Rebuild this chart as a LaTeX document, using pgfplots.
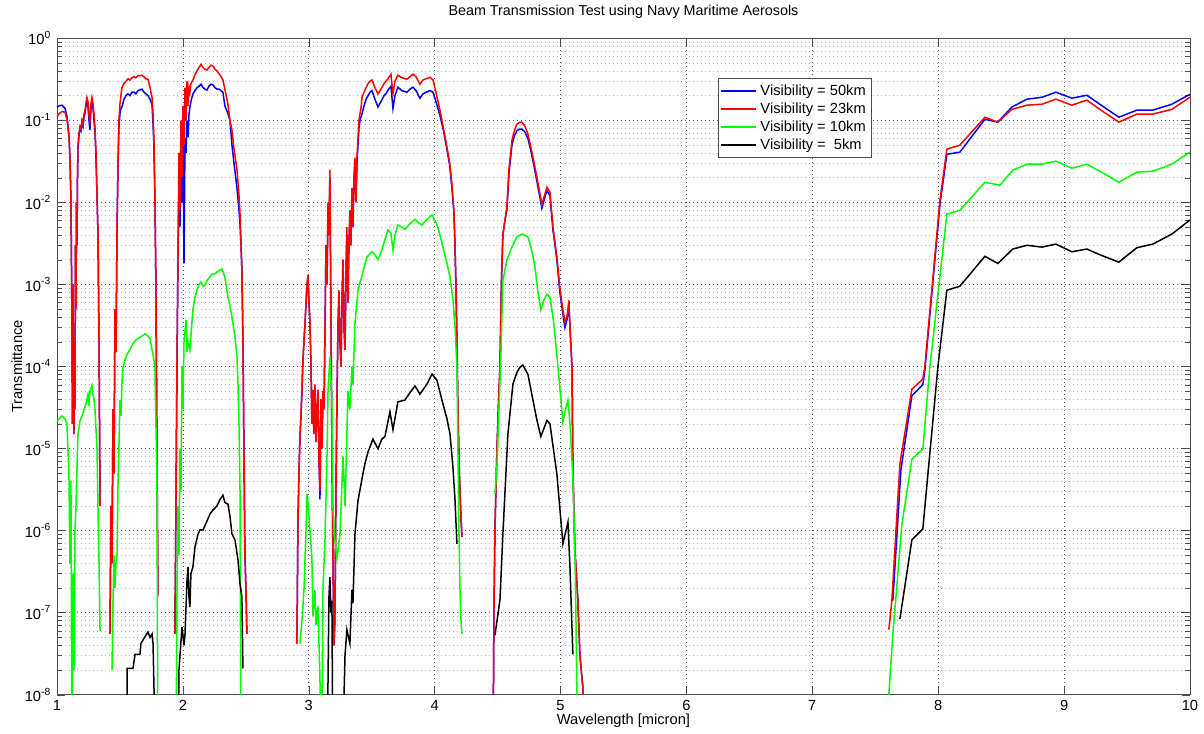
\documentclass[border=0pt]{standalone}
\usepackage{pgfplots}
\pgfplotsset{compat=1.18}
\usepackage{fontspec}
\setmainfont{Liberation Sans}
\definecolor{mblue}{rgb}{0,0,1}
\definecolor{mred}{rgb}{1,0,0}
\definecolor{mgreen}{rgb}{0,1,0}

\begin{document}
\begin{tikzpicture}
\begin{axis}[
 width=680pt, height=394pt, scale only axis,
 xmin=1, xmax=10, ymin=1e-8, ymax=1,
 ymode=log, log basis y=10,
 unbounded coords=jump,
 xtick={1,2,3,4,5,6,7,8,9,10},
 ytick={1e-8,1e-7,1e-6,1e-5,1e-4,1e-3,1e-2,1e-1,1},
 yticklabels={10\textsuperscript{-8},10\textsuperscript{-7},10\textsuperscript{-6},10\textsuperscript{-5},10\textsuperscript{-4},10\textsuperscript{-3},10\textsuperscript{-2},10\textsuperscript{-1},10\textsuperscript{0}},
 minor ytick={2e-8,3e-8,4e-8,5e-8,6e-8,7e-8,8e-8,9e-8,
  2e-7,3e-7,4e-7,5e-7,6e-7,7e-7,8e-7,9e-7,
  2e-6,3e-6,4e-6,5e-6,6e-6,7e-6,8e-6,9e-6,
  2e-5,3e-5,4e-5,5e-5,6e-5,7e-5,8e-5,9e-5,
  2e-4,3e-4,4e-4,5e-4,6e-4,7e-4,8e-4,9e-4,
  2e-3,3e-3,4e-3,5e-3,6e-3,7e-3,8e-3,9e-3,
  2e-2,3e-2,4e-2,5e-2,6e-2,7e-2,8e-2,9e-2,
  0.2,0.3,0.4,0.5,0.6,0.7,0.8,0.9},
 minor x tick num=0,
 /pgf/number format/assume math mode=true,
 grid=both,
 major grid style={black!65, dotted},
 minor grid style={black!28, dotted},
 axis line style={black!70},
 tick style={black!70},
 tick align=inside, tick pos=both,
 major tick length=5pt, minor tick length=3pt,
 tick label style={font=\fontsize{8.8}{10}\selectfont},
 label style={font=\fontsize{8.8}{10}\selectfont},
 title style={font=\fontsize{8.6}{10}\selectfont, at={(rel axis cs:0.5,1.0244)}, anchor=center},
 title={Beam Transmission Test using Navy Maritime Aerosols},
 xlabel={Wavelength [micron]},
 ylabel={Transmittance},
 xlabel style={at={(rel axis cs:0.5,-0.0396)}, anchor=center},
 ylabel style={at={(rel axis cs:-0.0353,0.5)}, anchor=center, rotate=0},
 legend style={at={(rel axis cs:0.583,0.939)}, anchor=north west, draw=black!70,
  font=\fontsize{8.8}{10}\selectfont, inner sep=1.5pt, row sep=-1pt},
 legend cell align={left},
 legend image code/.code={\draw[#1, line width=1.1pt] (0pt,0pt) -- (21pt,0pt);},
 every axis plot/.append style={line width=0.9pt},
]
% Visibility = 50 km
\addplot[mblue] coordinates {
 (1.000,0.145) (1.016,0.15) (1.040,0.153) (1.064,0.14) (1.080,0.11) (1.095,0.065) (1.103,0.035) (1.111,0.011) (1.115,0.002) (1.119,3e-4) (1.123,2e-5) (1.127,1e-3) (1.131,3e-5) (1.135,1.5e-5) (1.139,2e-4) (1.143,3e-5) (1.147,3e-3) (1.151,5e-4) (1.155,0.01) (1.159,3e-3) (1.163,0.02) (1.167,0.045) (1.175,0.065) (1.183,0.08) (1.191,0.075) (1.199,0.095) (1.207,0.085) (1.215,0.11) (1.222,0.12) (1.230,0.15) (1.238,0.17) (1.246,0.15) (1.254,0.1) (1.262,0.076) (1.270,0.14) (1.278,0.17) (1.286,0.14) (1.294,0.1) (1.302,0.07) (1.310,0.035) (1.318,0.012) (1.326,4e-3) (1.334,2e-4) (1.342,2e-6) (1.350,nan)
 (1.421,5.5e-8) (1.429,2e-6) (1.437,4e-7) (1.445,3e-5) (1.453,5e-6) (1.461,5e-4) (1.469,1.5e-4) (1.477,5e-3) (1.485,0.03) (1.492,0.08) (1.500,0.12) (1.508,0.14) (1.516,0.145) (1.532,0.18) (1.548,0.2) (1.564,0.21) (1.580,0.2) (1.596,0.22) (1.612,0.22) (1.627,0.21) (1.643,0.23) (1.659,0.235) (1.675,0.24) (1.691,0.22) (1.707,0.21) (1.723,0.2) (1.739,0.18) (1.755,0.157) (1.763,0.09) (1.770,0.05) (1.778,0.011) (1.786,1e-3) (1.794,1e-5) (1.802,1.7e-7) (1.810,nan)
 (1.937,5.5e-8) (1.945,2e-6) (1.953,1e-4) (1.961,2e-3) (1.969,0.02) (1.977,0.005) (1.985,0.04) (1.993,0.01) (2.001,0.05) (2.009,0.0018) (2.017,0.06) (2.025,0.04) (2.033,0.1) (2.041,0.062) (2.049,0.12) (2.056,0.145) (2.064,0.17) (2.080,0.21) (2.096,0.23) (2.112,0.25) (2.128,0.26) (2.144,0.275) (2.160,0.25) (2.176,0.24) (2.191,0.233) (2.207,0.26) (2.223,0.275) (2.239,0.27) (2.255,0.25) (2.271,0.24) (2.287,0.24) (2.303,0.23) (2.318,0.22) (2.334,0.15) (2.358,0.12) (2.374,0.1) (2.390,0.05) (2.406,0.03) (2.430,0.015) (2.446,0.008) (2.454,0.0054) (2.462,3e-3) (2.469,1.5e-3) (2.477,2.3e-4) (2.485,1e-5) (2.493,5e-7) (2.501,2e-7) (2.509,5.5e-8) (2.520,nan)
 (2.906,4.2e-8) (2.914,1.2e-6) (2.922,5e-6) (2.930,1.3e-5) (2.946,5e-5) (2.954,1.2e-4) (2.970,3.3e-4) (2.986,1e-3) (2.994,1.2e-3) (3.002,6e-4) (3.010,3.3e-4) (3.018,1e-4) (3.025,2e-5) (3.033,5.2e-5) (3.041,1.5e-5) (3.049,6e-5) (3.057,1.2e-5) (3.065,2.9e-5) (3.073,5.2e-5) (3.081,8e-6) (3.089,2.4e-6) (3.097,4e-5) (3.105,1e-5) (3.113,5e-5) (3.121,3e-5) (3.129,3e-4) (3.137,3e-3) (3.145,1e-3) (3.153,0.008) (3.160,4e-3) (3.168,0.02) (3.176,5e-4) (3.184,1e-5) (3.192,5e-7) (3.200,4e-8) (3.208,8e-8) (3.216,3e-6) (3.224,4e-5) (3.232,3e-4) (3.240,8e-4) (3.248,2e-4) (3.256,1e-4) (3.264,6e-4) (3.272,2e-3) (3.280,3e-4) (3.288,1.6e-4) (3.296,1.5e-3) (3.303,0.004) (3.311,6e-4) (3.319,0.003) (3.327,0.007) (3.335,0.003) (3.343,0.012) (3.351,0.005) (3.359,0.018) (3.367,0.03) (3.375,0.01) (3.383,0.03) (3.391,0.05) (3.399,0.08) (3.407,0.1) (3.415,0.11) (3.423,0.119) (3.439,0.15) (3.455,0.18) (3.471,0.2) (3.486,0.22) (3.502,0.23) (3.526,0.18) (3.550,0.145) (3.574,0.17) (3.598,0.2) (3.613,0.21) (3.629,0.233) (3.653,0.26) (3.669,0.14) (3.685,0.2) (3.708,0.253) (3.740,0.23) (3.780,0.22) (3.804,0.24) (3.828,0.253) (3.852,0.23) (3.883,0.186) (3.907,0.21) (3.931,0.22) (3.963,0.23) (3.987,0.22) (4.010,0.17) (4.042,0.115) (4.070,0.075) (4.098,0.044) (4.120,0.028) (4.137,0.015) (4.153,0.0075) (4.161,0.0033) (4.169,1e-3) (4.177,2e-4) (4.185,3e-5) (4.193,8e-6) (4.201,3e-6) (4.209,1.5e-6) (4.217,8.4e-7) (4.230,nan)
 (4.463,1e-9) (4.471,1e-7) (4.479,1e-6) (4.495,1e-5) (4.511,5e-5) (4.519,1e-4) (4.530,1e-3) (4.542,4e-3) (4.558,6e-3) (4.574,0.008) (4.590,0.022) (4.614,0.05) (4.634,0.065) (4.654,0.075) (4.673,0.078) (4.693,0.078) (4.717,0.072) (4.741,0.06) (4.761,0.045) (4.781,0.032) (4.813,0.018) (4.852,0.0085) (4.872,0.011) (4.892,0.014) (4.916,0.012) (4.940,0.0046) (4.971,0.002) (4.995,8e-4) (5.019,4.3e-4) (5.035,3e-4) (5.051,3.7e-4) (5.067,5.5e-4) (5.075,3e-4) (5.091,1e-4) (5.098,6e-6) (5.114,6e-7) (5.138,1.4e-7) (5.154,3e-8) (5.178,1.2e-8) (5.190,1e-9) (5.200,nan)
 (7.640,1.4e-7) (7.704,5.5e-6) (7.791,4.4e-5) (7.878,6e-5) (7.894,9e-5) (8.014,0.0095) (8.069,0.0386) (8.172,0.0409) (8.371,0.103) (8.474,0.095) (8.585,0.145) (8.705,0.181) (8.824,0.191) (8.935,0.22) (9.062,0.186) (9.181,0.202) (9.284,0.157) (9.435,0.109) (9.578,0.133) (9.705,0.133) (9.856,0.157) (10.000,0.208)
};
\addlegendentry{Visibility = 50km}
% Visibility = 23 km
\addplot[mred] coordinates {
 (1.000,0.11) (1.016,0.12) (1.040,0.128) (1.064,0.126) (1.080,0.1) (1.095,0.065) (1.103,0.035) (1.111,0.011) (1.115,0.002) (1.119,3e-4) (1.123,2e-5) (1.127,1e-3) (1.131,3e-5) (1.135,1.5e-5) (1.139,2e-4) (1.143,3e-5) (1.147,3e-3) (1.151,5e-4) (1.155,0.01) (1.159,3e-3) (1.163,0.02) (1.167,0.05) (1.175,0.07) (1.183,0.085) (1.191,0.08) (1.199,0.1) (1.207,0.09) (1.215,0.12) (1.222,0.13) (1.230,0.16) (1.238,0.19) (1.246,0.17) (1.254,0.12) (1.262,0.1) (1.270,0.16) (1.278,0.19) (1.286,0.16) (1.294,0.12) (1.302,0.08) (1.310,0.04) (1.318,0.012) (1.326,4e-3) (1.334,2e-4) (1.342,2e-6) (1.350,nan)
 (1.421,5.5e-8) (1.429,2e-6) (1.437,4e-7) (1.445,3e-5) (1.453,5e-6) (1.461,5e-4) (1.469,1.5e-4) (1.477,5e-3) (1.485,0.03) (1.492,0.1) (1.500,0.157) (1.508,0.2) (1.516,0.25) (1.532,0.28) (1.548,0.3) (1.564,0.32) (1.580,0.31) (1.596,0.33) (1.612,0.34) (1.627,0.33) (1.643,0.35) (1.659,0.35) (1.675,0.354) (1.691,0.34) (1.707,0.32) (1.723,0.317) (1.739,0.25) (1.755,0.19) (1.763,0.12) (1.770,0.06) (1.778,0.012) (1.786,1e-3) (1.794,1e-5) (1.802,1.6e-7) (1.810,nan)
 (1.937,5.5e-8) (1.945,2e-6) (1.953,1e-4) (1.961,2e-3) (1.969,0.04) (1.977,0.008) (1.985,0.1) (1.993,0.02) (2.001,0.15) (2.009,0.05) (2.017,0.25) (2.025,0.1) (2.033,0.3) (2.041,0.15) (2.049,0.25) (2.056,0.22) (2.064,0.28) (2.080,0.31) (2.096,0.36) (2.112,0.4) (2.128,0.44) (2.144,0.48) (2.160,0.44) (2.176,0.42) (2.191,0.41) (2.207,0.44) (2.223,0.47) (2.239,0.46) (2.255,0.42) (2.271,0.4) (2.287,0.37) (2.303,0.34) (2.318,0.31) (2.334,0.24) (2.358,0.157) (2.374,0.1) (2.390,0.076) (2.406,0.045) (2.430,0.025) (2.446,0.012) (2.454,0.0072) (2.462,3e-3) (2.469,1.5e-3) (2.477,2.3e-4) (2.485,1e-5) (2.493,5e-7) (2.501,2e-7) (2.509,5.5e-8) (2.520,nan)
 (2.906,4.2e-8) (2.914,1.2e-6) (2.922,5e-6) (2.930,1.3e-5) (2.946,5e-5) (2.954,1.2e-4) (2.970,3.3e-4) (2.986,1e-3) (2.994,1.3e-3) (3.002,6e-4) (3.010,3.3e-4) (3.018,1e-4) (3.025,2e-5) (3.033,5.2e-5) (3.041,1.5e-5) (3.049,6e-5) (3.057,1.2e-5) (3.065,2.9e-5) (3.073,5.2e-5) (3.081,8e-6) (3.089,3e-6) (3.097,4e-5) (3.105,1e-5) (3.113,5e-5) (3.121,3e-5) (3.129,3e-4) (3.137,3e-3) (3.145,1e-3) (3.153,0.01) (3.160,4e-3) (3.168,0.025) (3.176,5e-4) (3.184,1e-5) (3.192,5e-7) (3.200,4e-8) (3.208,8e-8) (3.216,3e-6) (3.224,4e-5) (3.232,3e-4) (3.240,8.5e-4) (3.248,2e-4) (3.256,1e-4) (3.264,6e-4) (3.272,2e-3) (3.280,3e-4) (3.288,1.6e-4) (3.296,1.5e-3) (3.303,0.005) (3.311,6e-4) (3.319,0.003) (3.327,0.008) (3.335,0.003) (3.343,0.015) (3.351,0.005) (3.359,0.02) (3.367,0.035) (3.375,0.01) (3.383,0.035) (3.391,0.06) (3.399,0.1) (3.407,0.12) (3.415,0.14) (3.423,0.19) (3.439,0.22) (3.455,0.25) (3.471,0.28) (3.486,0.3) (3.502,0.31) (3.526,0.25) (3.550,0.21) (3.574,0.24) (3.598,0.28) (3.613,0.3) (3.629,0.32) (3.653,0.365) (3.669,0.21) (3.685,0.3) (3.708,0.354) (3.740,0.33) (3.780,0.317) (3.804,0.34) (3.828,0.365) (3.852,0.34) (3.883,0.275) (3.907,0.31) (3.931,0.32) (3.963,0.335) (3.987,0.31) (4.010,0.22) (4.042,0.133) (4.070,0.08) (4.098,0.047) (4.120,0.03) (4.137,0.0167) (4.153,0.008) (4.161,0.0035) (4.169,1e-3) (4.177,2.1e-4) (4.185,3e-5) (4.193,8e-6) (4.201,3e-6) (4.209,1.5e-6) (4.217,8.4e-7) (4.230,nan)
 (4.463,1e-9) (4.471,1e-7) (4.479,1e-6) (4.495,1e-5) (4.511,5e-5) (4.519,1e-4) (4.530,1e-3) (4.542,4e-3) (4.558,6e-3) (4.574,0.0088) (4.590,0.025) (4.614,0.057) (4.634,0.075) (4.654,0.09) (4.673,0.094) (4.693,0.095) (4.717,0.085) (4.741,0.068) (4.761,0.05) (4.781,0.0355) (4.813,0.02) (4.852,0.0095) (4.872,0.012) (4.892,0.0153) (4.916,0.0133) (4.940,0.005) (4.971,0.00215) (4.995,9e-4) (5.019,4.9e-4) (5.035,3.5e-4) (5.051,4e-4) (5.067,6.4e-4) (5.075,3e-4) (5.091,1e-4) (5.098,6e-6) (5.114,6e-7) (5.138,1.4e-7) (5.154,3e-8) (5.178,1.2e-8) (5.190,1e-9) (5.200,nan)
 (7.608,6.2e-8) (7.632,1.4e-7) (7.696,6.5e-6) (7.791,5.3e-5) (7.878,7e-5) (7.894,1e-4) (8.014,0.0106) (8.069,0.0445) (8.172,0.0498) (8.371,0.109) (8.474,0.095) (8.585,0.136) (8.705,0.153) (8.824,0.157) (8.935,0.181) (9.062,0.153) (9.181,0.176) (9.284,0.136) (9.435,0.095) (9.578,0.119) (9.705,0.119) (9.856,0.136) (10.000,0.191)
};
\addlegendentry{Visibility = 23km}
% Visibility = 10 km
\addplot[mgreen] coordinates {
 (1.000,2.1e-5) (1.016,2.3e-5) (1.040,2.5e-5) (1.064,2.3e-5) (1.079,2e-5) (1.095,5e-6) (1.103,4e-7) (1.111,4e-6) (1.119,1e-9) (1.127,3e-7) (1.135,2e-8) (1.143,1e-6) (1.151,2e-6) (1.159,6e-6) (1.167,1.5e-5) (1.183,2.2e-5) (1.199,2.5e-5) (1.215,3e-5) (1.230,3.5e-5) (1.246,4.5e-5) (1.254,3.3e-5) (1.262,5e-5) (1.278,5.9e-5) (1.286,4.5e-5) (1.294,4e-5) (1.302,3e-5) (1.318,1e-5) (1.326,1.8e-6) (1.334,4e-7) (1.342,6e-8) (1.350,nan)
 (1.437,2e-8) (1.445,1.4e-7) (1.453,5e-7) (1.461,2e-7) (1.469,4e-7) (1.477,5e-7) (1.485,4e-6) (1.492,1e-5) (1.500,3.9e-5) (1.508,2.5e-5) (1.516,6e-5) (1.524,9.7e-5) (1.540,1.2e-4) (1.556,1.4e-4) (1.580,1.6e-4) (1.604,1.9e-4) (1.627,2.1e-4) (1.643,2.2e-4) (1.667,2.3e-4) (1.699,2.5e-4) (1.715,2.4e-4) (1.739,2.2e-4) (1.755,1.6e-4) (1.763,1.4e-4) (1.778,1e-4) (1.786,2e-5) (1.794,5e-6) (1.802,1e-9) (1.810,nan)
 (1.945,1e-9) (1.953,1.5e-7) (1.961,2e-6) (1.969,5e-7) (1.977,1e-5) (1.985,3e-6) (1.993,1e-4) (2.001,3e-5) (2.009,2e-4) (2.025,3.7e-4) (2.033,1.5e-4) (2.041,2e-4) (2.056,1.6e-4) (2.072,3.5e-4) (2.080,4.9e-4) (2.096,7e-4) (2.112,8.5e-4) (2.128,1e-3) (2.144,1.07e-3) (2.160,9.5e-4) (2.176,9.8e-4) (2.191,1.1e-3) (2.207,1.2e-3) (2.231,1.33e-3) (2.255,1.35e-3) (2.279,1.45e-3) (2.311,1.54e-3) (2.334,1.23e-3) (2.358,7e-4) (2.374,5.5e-4) (2.390,4e-4) (2.414,2.3e-4) (2.430,1.3e-4) (2.438,6e-5) (2.446,2e-5) (2.454,3e-6) (2.462,1e-9) (2.470,nan)
 (2.930,4.2e-8) (2.946,8e-8) (2.962,1.9e-7) (2.978,1e-6) (2.986,2.8e-6) (2.994,2.2e-6) (3.010,1e-6) (3.025,4.6e-7) (3.033,9e-8) (3.049,1.9e-7) (3.057,7e-8) (3.073,1.2e-7) (3.089,1.6e-8) (3.097,1e-9) (3.105,5e-9) (3.113,1.9e-7) (3.129,8e-7) (3.145,8e-6) (3.153,5e-5) (3.168,1.3e-4) (3.184,4e-5) (3.192,2e-6) (3.208,7.7e-7) (3.224,4.6e-7) (3.248,9e-7) (3.272,8e-6) (3.288,2e-6) (3.303,1.5e-5) (3.311,5e-5) (3.327,3e-5) (3.343,1e-4) (3.351,6e-5) (3.367,3.3e-4) (3.391,8.5e-4) (3.423,1.3e-3) (3.462,2.15e-3) (3.502,2.5e-3) (3.526,2.3e-3) (3.550,2e-3) (3.580,2.6e-3) (3.605,3.5e-3) (3.629,4.6e-3) (3.653,4.2e-3) (3.669,2.6e-3) (3.685,4e-3) (3.708,5.3e-3) (3.740,5e-3) (3.764,4.7e-3) (3.804,5.5e-3) (3.844,6.2e-3) (3.875,5.6e-3) (3.899,5.3e-3) (3.939,6.2e-3) (3.979,7e-3) (4.018,5.4e-3) (4.042,4e-3) (4.066,2.85e-3) (4.098,1.8e-3) (4.122,1.23e-3) (4.145,6.5e-4) (4.161,3.3e-4) (4.177,1e-4) (4.185,1e-5) (4.193,1e-6) (4.201,2e-7) (4.209,8e-8) (4.217,5.5e-8) (4.230,nan)
 (4.479,2.8e-6) (4.495,6e-6) (4.511,3e-5) (4.527,1.5e-4) (4.542,1.1e-3) (4.574,2e-3) (4.614,2.85e-3) (4.654,3.8e-3) (4.693,4.1e-3) (4.741,3.8e-3) (4.769,2.7e-3) (4.797,1.63e-3) (4.821,8e-4) (4.844,4.9e-4) (4.868,6.5e-4) (4.892,7.6e-4) (4.916,7e-4) (4.940,4e-4) (4.956,2.4e-4) (4.979,1e-4) (5.003,4e-5) (5.019,2.1e-5) (5.035,2.8e-5) (5.059,3.9e-5) (5.075,2e-5) (5.098,4.5e-6) (5.114,6e-7) (5.122,1e-7) (5.138,1e-9) (5.150,nan)
 (7.600,1e-9) (7.608,1e-8) (7.640,5.5e-8) (7.712,1.2e-6) (7.791,7.4e-6) (7.878,9.9e-6) (7.934,1e-4) (8.069,0.0072) (8.172,0.008) (8.371,0.0176) (8.490,0.0162) (8.593,0.0247) (8.705,0.0292) (8.824,0.0292) (8.935,0.0318) (9.062,0.0261) (9.181,0.0292) (9.284,0.024) (9.435,0.0176) (9.578,0.0233) (9.705,0.024) (9.856,0.0292) (10.000,0.041)
};
\addlegendentry{Visibility = 10km}
% Visibility = 5 km
\addplot[black] coordinates {
 (1.556,1e-9) (1.558,2.1e-8) (1.604,2.1e-8) (1.620,3.1e-8) (1.659,3.1e-8) (1.667,4.2e-8) (1.699,5.1e-8) (1.723,5.8e-8) (1.739,5e-8) (1.755,5.5e-8) (1.763,4.2e-8) (1.786,1e-9) (1.790,nan)
 (1.961,1e-9) (1.969,2e-8) (1.993,6.7e-8) (2.009,4e-8) (2.017,5.5e-8) (2.033,2.5e-7) (2.041,3.6e-7) (2.049,1.5e-7) (2.056,1.17e-7) (2.064,3e-7) (2.080,3.6e-7) (2.096,6.3e-7) (2.120,9e-7) (2.136,1.02e-6) (2.160,1.02e-6) (2.191,1.3e-6) (2.215,1.59e-6) (2.239,1.78e-6) (2.271,2e-6) (2.295,2.4e-6) (2.318,2.7e-6) (2.334,2.2e-6) (2.358,2.1e-6) (2.374,1.5e-6) (2.390,9.1e-7) (2.414,7.7e-7) (2.438,4.4e-7) (2.454,2.24e-7) (2.469,1.55e-7) (2.477,2.1e-8) (2.480,nan)
 (3.145,1e-9) (3.160,1.5e-7) (3.168,2.7e-7) (3.176,1e-7) (3.184,1.4e-7) (3.192,1e-9) (3.264,1e-9) (3.288,3e-8) (3.303,6.2e-8) (3.327,4.2e-8) (3.343,1.9e-7) (3.351,1.3e-7) (3.367,9e-7) (3.391,2.3e-6) (3.430,4.9e-6) (3.446,6.5e-6) (3.470,9e-6) (3.510,1.3e-5) (3.550,9.9e-6) (3.580,1.3e-5) (3.605,1.4e-5) (3.645,2.8e-5) (3.669,1.7e-5) (3.708,3.7e-5) (3.764,3.9e-5) (3.804,4.8e-5) (3.844,5.8e-5) (3.883,4.6e-5) (3.939,6.1e-5) (3.979,8.1e-5) (4.018,6.8e-5) (4.066,3.5e-5) (4.098,2.3e-5) (4.122,1.5e-5) (4.145,6e-6) (4.161,2.5e-6) (4.177,6.9e-7) (4.180,nan)
 (4.479,5.3e-8) (4.519,1.43e-7) (4.542,9e-7) (4.582,1.5e-5) (4.622,6.1e-5) (4.654,8.5e-5) (4.678,9.8e-5) (4.701,1.04e-4) (4.741,8e-5) (4.781,3.9e-5) (4.813,2.2e-5) (4.844,1.4e-5) (4.892,2.2e-5) (4.916,2e-5) (4.971,4.9e-6) (5.019,6.9e-7) (5.059,1.27e-6) (5.075,3.6e-7) (5.098,3.1e-8) (5.110,nan)
 (7.696,8.4e-8) (7.791,7.7e-7) (7.878,1.05e-6) (7.998,1e-4) (8.069,8.5e-4) (8.172,9.5e-4) (8.371,2.2e-3) (8.474,1.8e-3) (8.593,2.7e-3) (8.705,3e-3) (8.824,2.85e-3) (8.935,3.1e-3) (9.062,2.5e-3) (9.181,2.7e-3) (9.284,2.3e-3) (9.435,1.87e-3) (9.578,2.8e-3) (9.705,3.1e-3) (9.856,4.1e-3) (10.000,6.1e-3)
};
\addlegendentry{Visibility = \ 5km}
\coordinate (bl) at (rel axis cs:-0.0503,-0.0563);
\coordinate (tr) at (rel axis cs:1.0124,1.0472);
\end{axis}
\path (bl) rectangle (tr);
\end{tikzpicture}
\end{document}
